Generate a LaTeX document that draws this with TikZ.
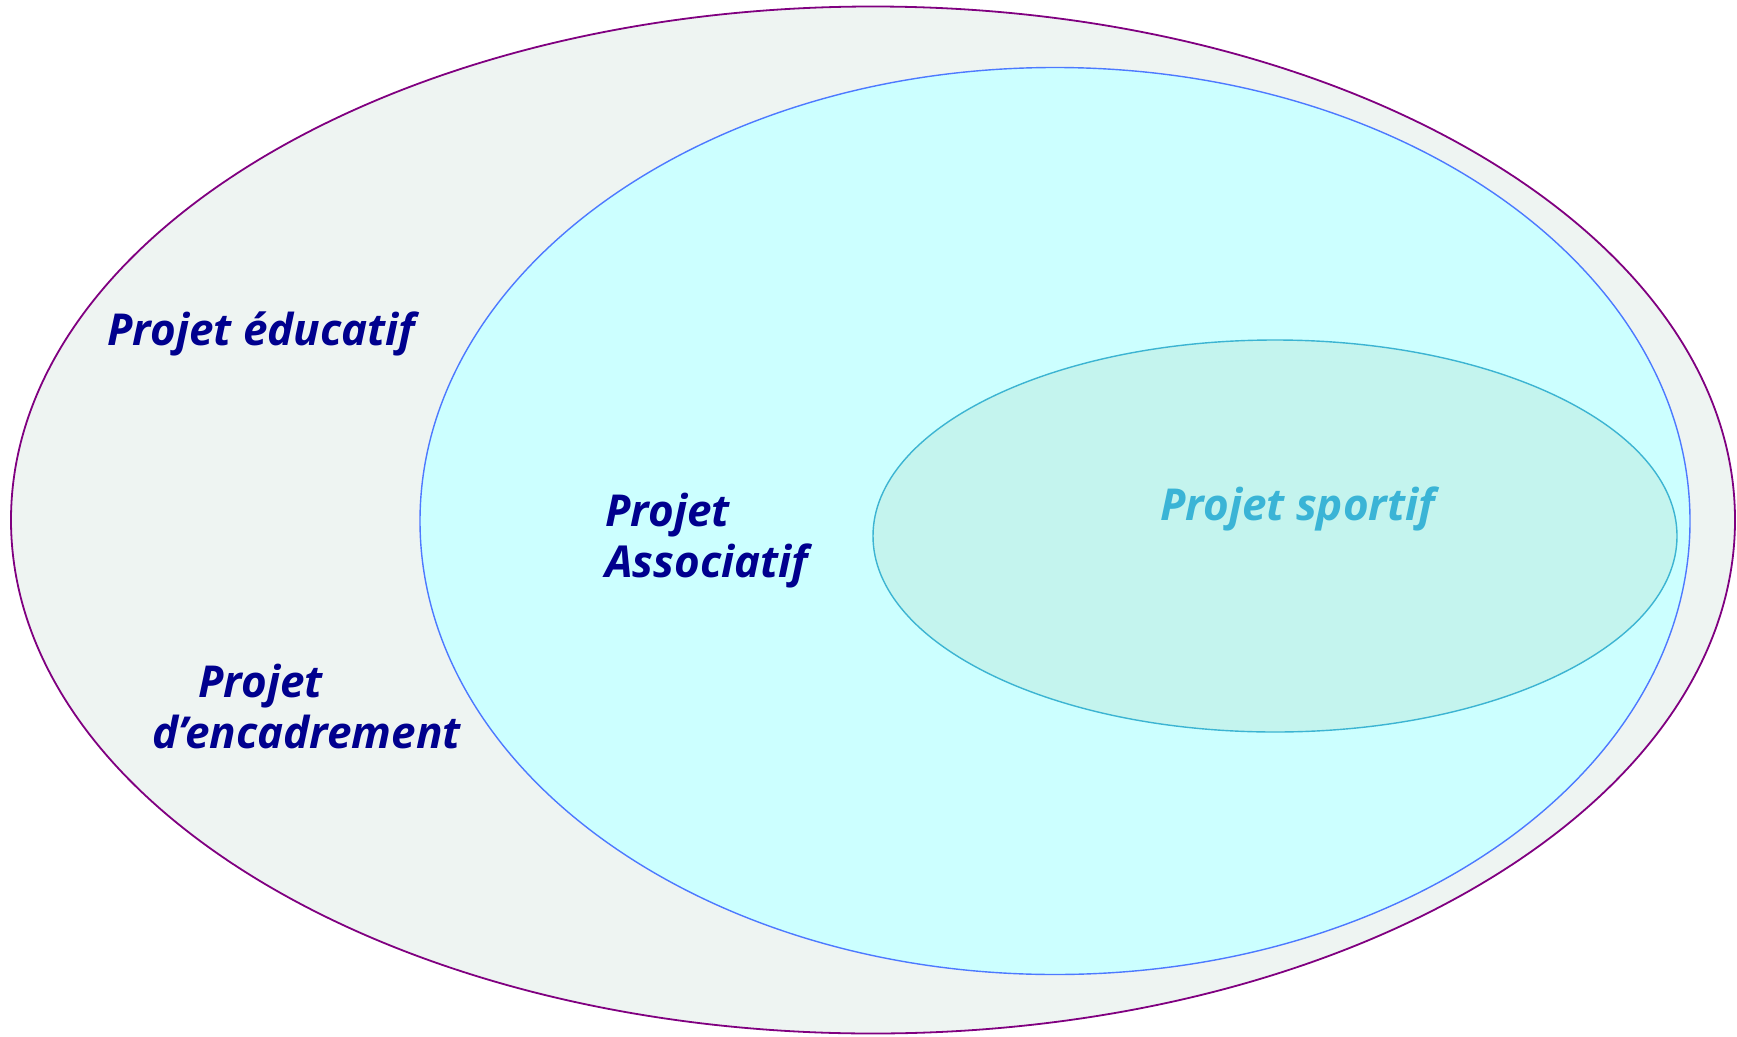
\documentclass[tikz,border=0pt]{standalone}
\usepackage{fontspec}
\setmainfont{Open Sans}
\usetikzlibrary{positioning}
\definecolor{navytxt}{RGB}{0,0,142}
\definecolor{sporttxt}{RGB}{58,180,214}
\definecolor{outerfill}{RGB}{238,244,242}
\definecolor{outerline}{RGB}{128,0,128}
\definecolor{assofill}{RGB}{204,255,255}
\definecolor{assoline}{RGB}{77,121,255}
\definecolor{sportfill}{RGB}{196,244,238}
\definecolor{sportline}{RGB}{60,180,210}
\begin{document}
\begin{tikzpicture}[x=1pt, y=-1pt,
		projtxt/.style={inner sep=0pt, font=\fontsize{44}{51}\selectfont\bfseries\itshape, text=navytxt, align=left, anchor=base west}]
		%%%%% START %%%%%
		\useasboundingbox (0, 0) rectangle (1737, 1036);
		
		\draw[outerline, fill=outerfill, line width=1.8pt] (873, 520) ellipse [x radius=862pt, y radius=513.5pt];
		\draw[assoline, fill=assofill, line width=1.4pt] (1055, 521) ellipse [x radius=635pt, y radius=453.5pt];
		\draw[sportline, fill=sportfill, line width=1.4pt] (1275, 536) ellipse [x radius=402pt, y radius=196pt];
		
		% base anchor of a two line node sits on its last line
		\node[projtxt] (educ) at (107, 345) {Projet éducatif};
		\node[projtxt] (encad) at (152, 748) {\hspace*{46pt}Projet\\d’encadrement};
		\node[projtxt] (asso) at (605, 577) {Projet\\Associatif};
		\node[projtxt, text=sporttxt] (sport) at (1160, 520) {Projet sportif};
		%%%%% END %%%%%
\end{tikzpicture}
\end{document}
